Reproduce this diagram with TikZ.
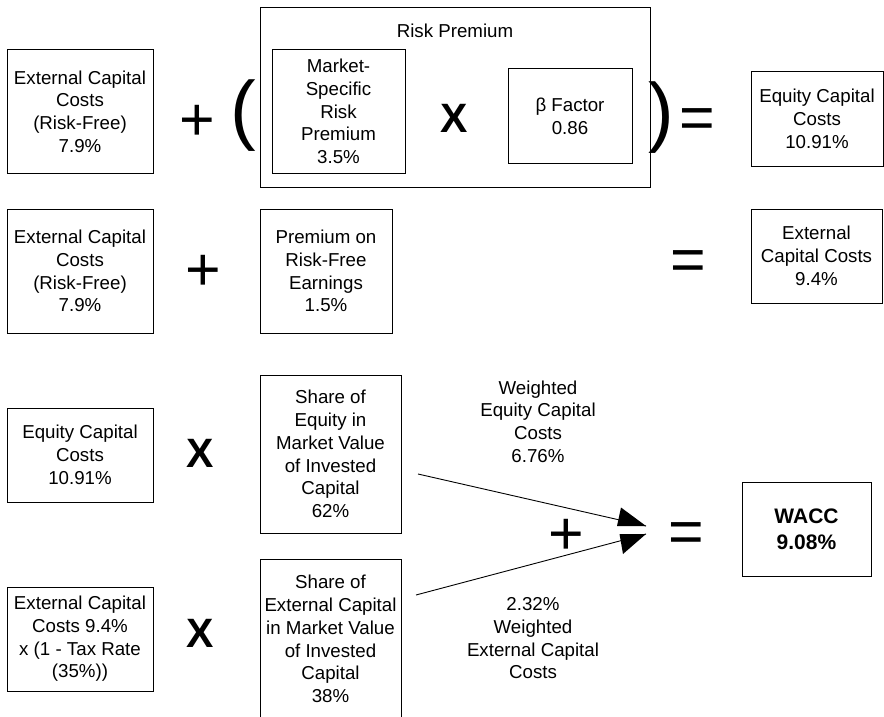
\documentclass[tikz,border=0pt]{standalone}
\usepackage{fontspec}
\setmainfont{Liberation Sans}
\usetikzlibrary{arrows.meta}

\begin{document}
\begin{tikzpicture}[x=1pt,y=-1pt,
  every node/.style={font=\fontsize{18.7}{22.7}\selectfont, align=center, inner sep=0pt},
  box/.style={draw, line width=1pt},
  opsign/.style={font=\fontsize{61}{61}\selectfont},
  timessign/.style={font=\fontsize{41}{41}\selectfont\bfseries},
  parensign/.style={font=\fontsize{77}{77}\selectfont},
  result/.style={font=\fontsize{21}{26}\selectfont\bfseries},
  flow/.style={line width=0.9pt},
  headfill/.style={fill=black}]

\useasboundingbox (0,0) rectangle (884,717);
\clip (0,0) rectangle (884,717);

% --- Row 1: cost of equity (CAPM) ---
\node[box, minimum width=146pt, minimum height=123pt] (ext1) at (80,111.5)
  {External Capital\\Costs\\(Risk-Free)\\7.9\%};
\node[opsign] (plus1) at (197,123) {+};
\node[parensign] (lpar) at (243,116) {(};
\node[box, minimum width=390pt, minimum height=179pt] (rp) at (455,97.5) {};
\node (rplabel) at (455,31) {Risk Premium};
\node[box, minimum width=133pt, minimum height=123pt] (msrp) at (338.5,111.5)
  {Market-\\Specific\\Risk\\Premium\\3.5\%};
\node[timessign] (x1) at (454,118) {X};
\node[box, minimum width=124pt, minimum height=94pt] (beta) at (570,116)
  {β Factor\\0.86};
\node[parensign] (rpar) at (661,118) {)};
\node[opsign] (eq1) at (697,124) {=};
\node[box, minimum width=132pt, minimum height=94pt] (eqc1) at (817,119)
  {Equity Capital\\Costs\\10.91\%};

% --- Row 2: cost of debt ---
\node[box, minimum width=146pt, minimum height=124pt] (ext2) at (80,271)
  {External Capital\\Costs\\(Risk-Free)\\7.9\%};
\node[opsign] (plus2) at (203,273) {+};
\node[box, minimum width=132pt, minimum height=124pt] (prem) at (326,271)
  {Premium on\\Risk-Free\\Earnings\\1.5\%};
\node[opsign] (eq2) at (688,266) {=};
\node[box, minimum width=131pt, minimum height=94pt] (ext94) at (816.5,256)
  {External\\Capital Costs\\9.4\%};

% --- Row 3: weighted cost of equity ---
\node[box, minimum width=146pt, minimum height=94pt] (eqc3) at (80,455)
  {Equity Capital\\Costs\\10.91\%};
\node[timessign] (x3) at (200,453) {X};
\node[box, minimum width=141pt, minimum height=158pt] (shareeq) at (330.5,454)
  {Share of\\Equity in\\Market Value\\of Invested\\Capital\\62\%};

% --- Row 4: weighted cost of debt ---
\node[box, minimum width=146pt, minimum height=104pt] (exttax) at (80,639)
  {External Capital\\Costs 9.4\%\\x (1 - Tax Rate\\(35\%))};
\node[timessign] (x4) at (200,633) {X};
\node[box, minimum width=141pt, minimum height=160pt] (shareext) at (330.5,639)
  {Share of\\External Capital\\in Market Value\\of Invested\\Capital\\38\%};

% --- Combination into WACC ---
\coordinate (s1) at (418,474);
\coordinate (t1) at (646,526);
\coordinate (s2) at (416,595);
\coordinate (t2) at (646,534);
\draw[flow] (s1) -- (t1);
\draw[flow] (s2) -- (t2);
% arrow heads, flat on the side facing each other
\fill[headfill] (t1) -- (617,526) -- (621,507.5) -- cycle;
\fill[headfill] (t2) -- (619.5,534) -- (623,554) -- cycle;
\node (weq) at (538,421.5) {Weighted\\Equity Capital\\Costs\\6.76\%};
\node (wext) at (533,638.5) {2.32\%\\Weighted\\External Capital\\Costs};
\node[opsign] (plus3) at (566,537) {+};
\node[opsign] (eq3) at (686,538) {=};
\node[box, result, minimum width=129pt, minimum height=94pt] (wacc) at (806.5,529)
  {WACC\\9.08\%};
\end{tikzpicture}
\end{document}
